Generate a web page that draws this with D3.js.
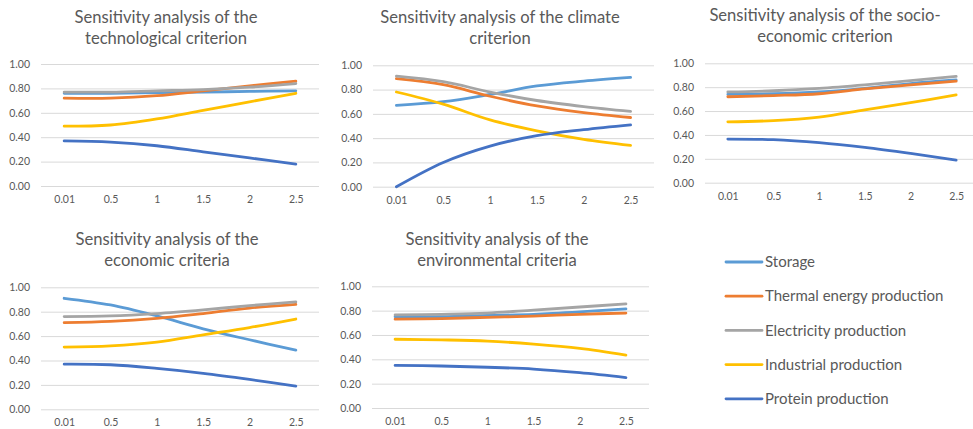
<!DOCTYPE html>
<html>
<head>
<meta charset="utf-8">
<script src="https://cdn.jsdelivr.net/npm/d3@7"></script>
<style>
  body { margin: 0; background: #fff; }
  svg { display: block; font-family: Lato, "Open Sans", sans-serif; }
</style>
</head>
<body>
<svg id="chart" width="973" height="429"></svg>
<script>
// categories on the x axis (weight factor)
const categories = ["0.01", "0.5", "1", "1.5", "2", "2.5"];
const seriesNames = ["Storage", "Thermal energy production", "Electricity production", "Industrial production", "Protein production"];
const seriesColors = ["#5B9BD5", "#ED7D31", "#A5A5A5", "#FFC000", "#4472C4"];
const yTicks = [0, 0.2, 0.4, 0.6, 0.8, 1.0];

// values, one array per series (same order as seriesNames)
const technological = [
  [0.76, 0.76, 0.765, 0.77, 0.775, 0.78],
  [0.72, 0.72, 0.74, 0.78, 0.82, 0.86],
  [0.77, 0.77, 0.78, 0.79, 0.81, 0.84],
  [0.49, 0.50, 0.55, 0.62, 0.69, 0.76],
  [0.37, 0.36, 0.33, 0.28, 0.23, 0.18]
];
const climate = [
  [0.67, 0.70, 0.76, 0.83, 0.87, 0.90],
  [0.89, 0.84, 0.745, 0.665, 0.61, 0.57],
  [0.91, 0.865, 0.78, 0.71, 0.66, 0.62],
  [0.78, 0.68, 0.55, 0.46, 0.39, 0.34],
  [0.00, 0.20, 0.335, 0.42, 0.47, 0.51]
];
const socioEconomic = [
  [0.74, 0.745, 0.76, 0.79, 0.83, 0.86],
  [0.72, 0.73, 0.745, 0.785, 0.82, 0.85],
  [0.76, 0.77, 0.79, 0.82, 0.855, 0.89],
  [0.51, 0.52, 0.55, 0.61, 0.67, 0.735],
  [0.365, 0.36, 0.335, 0.295, 0.245, 0.19]
];
const economic = [
  [0.91, 0.855, 0.765, 0.66, 0.57, 0.485],
  [0.71, 0.72, 0.745, 0.785, 0.83, 0.86],
  [0.76, 0.765, 0.785, 0.815, 0.85, 0.88],
  [0.51, 0.52, 0.55, 0.61, 0.67, 0.74],
  [0.37, 0.365, 0.335, 0.295, 0.245, 0.19]
];
const environmental = [
  [0.75, 0.75, 0.76, 0.77, 0.79, 0.815],
  [0.73, 0.735, 0.745, 0.755, 0.77, 0.78],
  [0.765, 0.77, 0.78, 0.805, 0.83, 0.855],
  [0.565, 0.56, 0.55, 0.525, 0.49, 0.435],
  [0.35, 0.345, 0.335, 0.32, 0.29, 0.25]
];

// panel layout (plot box + title position)
const panels = [
  {title: ["Sensitivity analysis of the", "technological criterion"], data: technological,
   x0: 41, x1: 319, top: 64, bottom: 186, tx: 166, ty: 17},
  {title: ["Sensitivity analysis of the climate", "criterion"], data: climate,
   x0: 373, x1: 654, top: 65.3, bottom: 186.7, tx: 500, ty: 16.7},
  {title: ["Sensitivity analysis of the socio-", "economic criterion"], data: socioEconomic,
   x0: 705, x1: 979, top: 63.3, bottom: 182.7, tx: 825, ty: 15},
  {title: ["Sensitivity analysis of the", "economic criteria"], data: economic,
   x0: 41, x1: 319, top: 287.3, bottom: 409.3, tx: 167, ty: 239},
  {title: ["Sensitivity analysis of the", "environmental criteria"], data: environmental,
   x0: 372, x1: 649, top: 286.3, bottom: 408, tx: 497, ty: 239}
];

const svg = d3.select("#chart");
const textColor = "#595959";

panels.forEach(p => {
  const g = svg.append("g");

  const x = d3.scalePoint().domain(categories).range([p.x0, p.x1]).padding(0.5);
  const y = d3.scaleLinear().domain([0, 1]).range([p.bottom, p.top]);

  // titulo em duas linhas
  g.append("text")
    .attr("x", p.tx)
    .attr("y", p.ty)
    .attr("text-anchor", "middle")
    .attr("fill", textColor)
    .style("font-size", "16.6px")
    .selectAll("tspan")
    .data(p.title)
    .join("tspan")
    .attr("x", p.tx)
    .attr("dy", (d, i) => i == 0 ? "0.35em" : "21.5px")
    .text(d => d);

  // grade horizontal
  const grid = g.append("g")
    .attr("transform", `translate(${p.x0},0)`)
    .call(d3.axisLeft(y).tickValues(yTicks).tickSize(-(p.x1 - p.x0)).tickFormat(""));
  grid.select(".domain").remove();
  grid.selectAll("line").attr("stroke", "#D9D9D9").attr("stroke-width", 1);

  // eixo y (rotulos)
  const yAxis = g.append("g")
    .attr("transform", `translate(${p.x0 - 11},0)`)
    .call(d3.axisLeft(y).tickValues(yTicks).tickSize(0).tickFormat(d3.format(".2f")));
  yAxis.select(".domain").remove();
  yAxis.selectAll("text").attr("x", 0).attr("fill", textColor)
    .style("font-size", "10.5px").style("font-family", "Lato, sans-serif");

  // eixo x
  const xAxis = g.append("g")
    .attr("transform", `translate(0,${p.bottom})`)
    .call(d3.axisBottom(x).tickSize(0));
  xAxis.select(".domain").remove();
  xAxis.selectAll("text").attr("y", 17).attr("dy", 0).attr("fill", textColor)
    .style("font-size", "10.5px").style("font-family", "Lato, sans-serif");

  const line = d3.line()
    .x((d, i) => x(categories[i]))
    .y(d => y(d))
    .curve(d3.curveCatmullRom.alpha(0));

  p.data.forEach((values, k) => {
    g.append("path")
      .datum(values)
      .attr("d", line)
      .attr("fill", "none")
      .attr("stroke", seriesColors[k])
      .attr("stroke-width", 2.8)
      .attr("stroke-linecap", "round");
  });
});

// legenda
const legend = svg.append("g");
seriesNames.forEach((name, i) => {
  const ly = 262 + i * 34.2;
  legend.append("line")
    .attr("x1", 726).attr("x2", 762)
    .attr("y1", ly).attr("y2", ly)
    .attr("stroke", seriesColors[i])
    .attr("stroke-width", 2.8)
    .attr("stroke-linecap", "round");
  legend.append("text")
    .attr("x", 765)
    .attr("y", ly)
    .attr("dy", "0.35em")
    .attr("fill", textColor)
    .style("font-size", "15px")
    .text(name);
});
</script>
</body>
</html>
